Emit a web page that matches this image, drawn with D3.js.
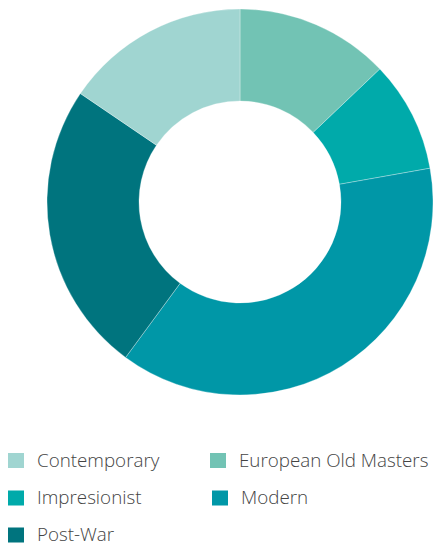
<!DOCTYPE html>
<html><head><meta charset="utf-8">
<script src="https://cdn.jsdelivr.net/npm/d3@7"></script>
<style>html,body{margin:0;padding:0;background:#fff;}svg{display:block;}</style>
</head><body>
<svg id="c" width="433" height="546"></svg>
<script>
const categories = ["European Old Masters", "Impresionist", "Modern", "Post-War", "Contemporary"];
const values = [12.9, 9.3, 37.9, 24.4, 15.5];
const colors = ["#72c3b4", "#00aaaa", "#0097a7", "#00747e", "#a0d5d1"];
const legendOrder = ["Contemporary", "European Old Masters", "Impresionist", "Modern", "Post-War"];

const svg = d3.select("#c");
const cx = 240, cy = 202, rOuter = 193, rInner = 101;
const color = d3.scaleOrdinal().domain(categories).range(colors);
const pie = d3.pie().sort(null).value(d => d.v);
const arc = d3.arc().innerRadius(rInner).outerRadius(rOuter);
const data = categories.map((c, i) => ({c, v: values[i]}));

svg.append("g").attr("transform", `translate(${cx},${cy})`)
  .selectAll("path").data(pie(data)).join("path")
  .attr("d", arc).attr("fill", d => color(d.data.c))
  .attr("stroke", "#ffffff").attr("stroke-opacity", 0.5).attr("stroke-width", 0.6);

const legX = [8, 210], legY = [453, 490.5, 527.5];
const lg = svg.append("g").attr("font-family", "'Open Sans', sans-serif").attr("font-size", 18.8)
  .attr("font-weight", 300).attr("fill", "#444");
legendOrder.forEach((c, i) => {
  const col = i % 2, row = Math.floor(i / 2);
  let x = legX[col] + (c === "Modern" ? 2 : 0);
  const y = legY[row];
  lg.append("rect").attr("x", x).attr("y", y).attr("width", 16).attr("height", 15).attr("fill", color(c));
  lg.append("text").attr("x", x + 29).attr("y", y + 13.5).text(c);
});
</script>
</body></html>
